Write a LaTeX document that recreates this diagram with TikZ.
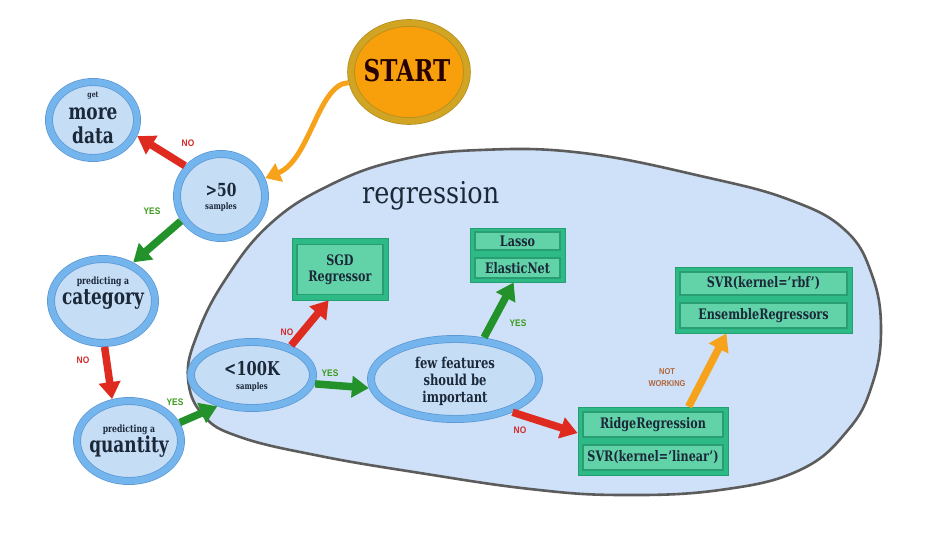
\documentclass[tikz,border=0pt]{standalone}
\usepackage{fontspec}
\setmainfont{DejaVu Serif}[FakeStretch=0.85, BoldFeatures={FakeStretch=0.77}]
\newfontfamily\lblfont{Liberation Sans}[FakeStretch=0.88]
\usetikzlibrary{arrows.meta,shapes.geometric}
\definecolor{ringc}{HTML}{74B5EE}
\definecolor{ringedge}{HTML}{5A96D2}
\definecolor{qfill}{HTML}{C6DDF6}
\definecolor{blobfill}{HTML}{CFE1F8}
\definecolor{blobedge}{HTML}{5C5C5C}
\definecolor{startfill}{HTML}{F8A00C}
\definecolor{goldc}{HTML}{D2A424}
\definecolor{goldedge}{HTML}{B58E1C}
\definecolor{boxfill}{HTML}{2DBA86}
\definecolor{boxedge}{HTML}{249F72}
\definecolor{rowfill}{HTML}{62D3A9}
\definecolor{rowedge}{HTML}{2A9E73}
\definecolor{txtc}{HTML}{1B2838}
\definecolor{arred}{HTML}{DE2A1F}
\definecolor{argreen}{HTML}{23922A}
\definecolor{arorange}{HTML}{F7A21B}
\definecolor{lblred}{HTML}{D42A2A}
\definecolor{lblgreen}{HTML}{3A9A1A}
\definecolor{lblbrown}{HTML}{B0653A}
\begin{document}
\begin{tikzpicture}[x=1pt,y=-1pt,
  qnode/.style={ellipse, fill=qfill, draw=ringedge, line width=0.7pt,
    double=ringc, double distance=6.5pt, inner sep=0pt, outer sep=4pt},
  startnode/.style={ellipse, fill=startfill, draw=goldedge, line width=0.8pt,
    double=goldc, double distance=6pt, inner sep=0pt, outer sep=3.8pt},
  gbox/.style={rectangle, fill=boxfill, draw=boxedge, line width=0.8pt, inner sep=0pt},
  rowbox/.style={rectangle, fill=rowfill, draw=rowedge, line width=1.2pt, inner sep=0pt,
    text=txtc, font=\bfseries\fontsize{14.5}{16}\selectfont, align=center},
  txt/.style={text=txtc, inner sep=0pt, anchor=base},
  lbl/.style={inner sep=0pt, font=\lblfont\bfseries\fontsize{9.5}{10}\selectfont},
  arr/.style={line width=7.5pt, -{Triangle[length=17pt,width=21pt]}}
]
\useasboundingbox (0,0) rectangle (932,548);
\fill[white] (0,0) rectangle (932,548);

% regression region
\draw[fill=blobfill, draw=blobedge, line width=2.6pt]
  plot[smooth cycle, tension=0.7] coordinates {
  (480,150) (583,153) (705,177) (790,200) (845,230) (872,275) (881,330)
  (872,385) (848,430) (800,470) (720,490) (620,495) (530,489) (420,473)
  (320,456) (240,437) (203,415) (188,378) (197,335) (225,280) (270,224)
  (330,185) (400,160)};
\node[txt, anchor=base west, font=\fontsize{30}{32}\selectfont] (tregr) at (362,204) {regression};

% decision ellipses
\node[startnode, minimum width=116pt, minimum height=98pt] (start) at (409,72) {};
\node[txt, text=black!85!red, font=\bfseries\fontsize{30}{32}\selectfont] (tstart) at (407,82) {START};

\node[qnode, minimum width=88pt, minimum height=76pt] (more) at (93,120) {};
\node[txt, font=\bfseries\fontsize{8}{9}\selectfont] (tget) at (93,98) {get};
\node[txt, font=\bfseries\fontsize{22}{24}\selectfont] (tmore) at (93,120) {more};
\node[txt, font=\bfseries\fontsize{22}{24}\selectfont] (tdata) at (93,144) {data};

\node[qnode, minimum width=88pt, minimum height=84pt] (gt50) at (221,196) {};
\node[txt, font=\bfseries\fontsize{18}{20}\selectfont] (t50) at (221,197) {>50};
\node[txt, font=\bfseries\fontsize{9}{10}\selectfont] (t50s) at (221,210) {samples};

\node[qnode, minimum width=104pt, minimum height=84pt] (cat) at (103,301) {};
\node[txt, font=\bfseries\fontsize{10}{11}\selectfont] (tcat1) at (103,284) {predicting a};
\node[txt, font=\bfseries\fontsize{22}{24}\selectfont] (tcat2) at (103,305) {category};

\node[qnode, minimum width=104pt, minimum height=80pt] (qty) at (129,441) {};
\node[txt, font=\bfseries\fontsize{10}{11}\selectfont] (tqty1) at (129,432) {predicting a};
\node[txt, font=\bfseries\fontsize{22}{24}\selectfont] (tqty2) at (129,452) {quantity};

\node[qnode, minimum width=122pt, minimum height=66pt] (k100) at (252,375) {};
\node[txt, font=\bfseries\fontsize{19}{21}\selectfont] (tk1) at (252,375) {<100K};
\node[txt, font=\bfseries\fontsize{9}{10}\selectfont] (tk2) at (252,389) {samples};

\node[qnode, minimum width=168pt, minimum height=80pt] (few) at (455,379) {};
\node[txt, font=\bfseries\fontsize{15}{17}\selectfont] (tfew1) at (455,368) {few features};
\node[txt, font=\bfseries\fontsize{15}{17}\selectfont] (tfew2) at (455,385) {should be};
\node[txt, font=\bfseries\fontsize{15}{17}\selectfont] (tfew3) at (455,402) {important};

% estimator boxes
\node[gbox, minimum width=96pt, minimum height=62pt] (sgd) at (340,269) {};
\node[rowbox, minimum width=86pt, minimum height=50pt] (sgdrow) at (340,269.5) {SGD\\Regressor};

\node[gbox, minimum width=95pt, minimum height=54pt] (lasso) at (517.5,255) {};
\node[rowbox, minimum width=85pt, minimum height=18pt] (lassorow) at (517.5,241) {Lasso};
\node[rowbox, minimum width=85pt, minimum height=20pt] (enetrow) at (517.5,268) {ElasticNet};

\node[gbox, minimum width=177pt, minimum height=66pt] (svr) at (763.5,300) {};
\node[rowbox, minimum width=167pt, minimum height=23pt] (rbfrow) at (763.5,283.5) {SVR(kernel='rbf')};
\node[rowbox, minimum width=167pt, minimum height=25pt] (ensrow) at (763.5,315.5) {EnsembleRegressors};

\node[gbox, minimum width=150pt, minimum height=68pt] (ridge) at (653,441) {};
\node[rowbox, minimum width=140pt, minimum height=25pt] (ridgerow) at (653,424.5) {RidgeRegression};
\node[rowbox, minimum width=140pt, minimum height=25pt] (linrow) at (653,457.5) {SVR(kernel='linear')};

% connectors
\draw[arorange, line width=5pt, -{Triangle[length=15pt,width=19pt]}]
  (start.190) .. controls (318,84) and (310,160) .. (gt50.22);
\draw[arr, arred] (gt50.140) -- (more.340);
\draw[arr, argreen] (gt50.212) -- (cat.52);
\draw[arr, arred] (cat.272) -- (qty.112);
\draw[arr, argreen] (qty.20) -- (k100.222);
\draw[arr, arred] (k100.37) -- (sgd.250);
\draw[arr, argreen] (k100.352) -- (few.186);
\draw[arr, argreen] (few.55) -- (lasso.262);
\draw[arr, arred] (few.330) -- (ridge.174);
\draw[arr, arorange] (ridge.44) -- (svr.222);

% labels
\node[lbl, text=lblred] (l1) at (188,143) {NO};
\node[lbl, text=lblgreen] (l2) at (152,211) {YES};
\node[lbl, text=lblred] (l3) at (83,360) {NO};
\node[lbl, text=lblgreen] (l4) at (175,402) {YES};
\node[lbl, text=lblred] (l5) at (287,332) {NO};
\node[lbl, text=lblgreen] (l6) at (330,373) {YES};
\node[lbl, text=lblgreen] (l7) at (518,323) {YES};
\node[lbl, text=lblred] (l8) at (520,430) {NO};
\node[lbl, text=lblbrown, align=center, font=\lblfont\bfseries\fontsize{8.5}{12}\selectfont] (l9) at (667,378) {NOT\\WORKING};
\end{tikzpicture}
\end{document}
